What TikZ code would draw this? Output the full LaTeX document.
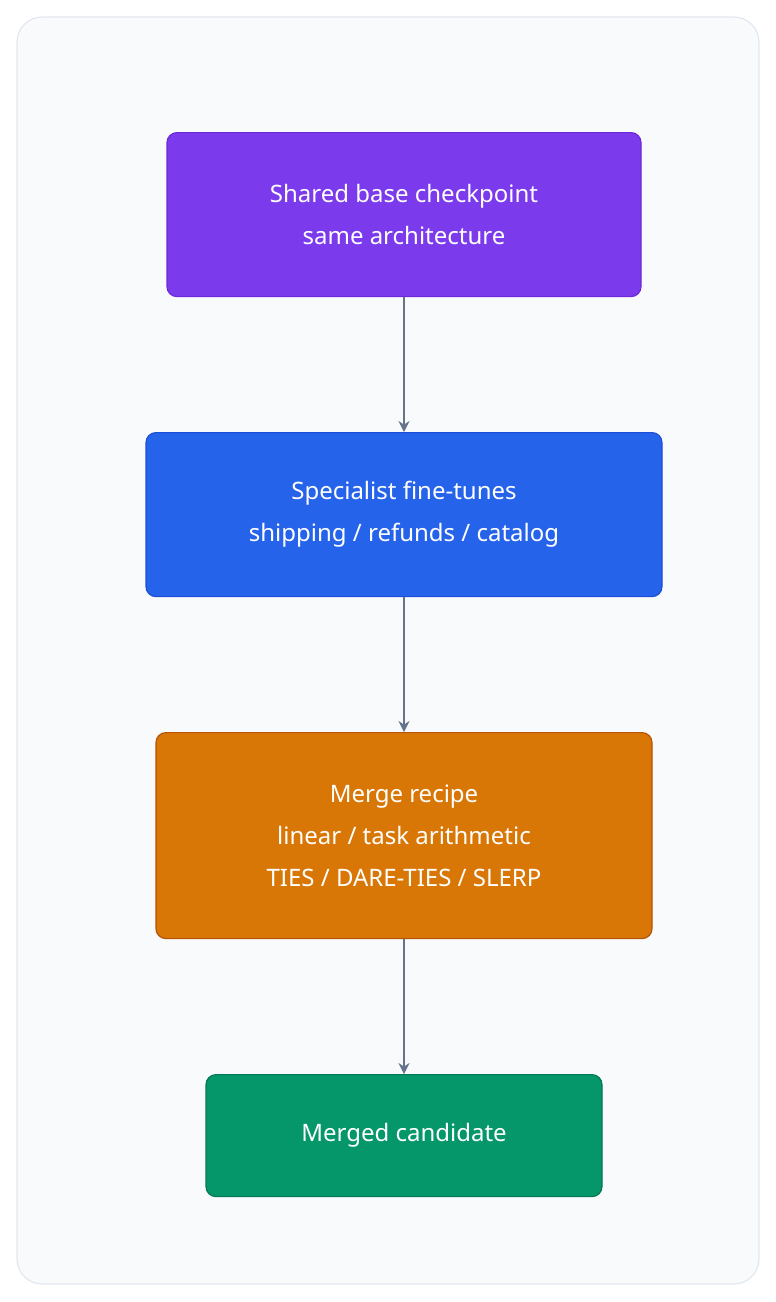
\documentclass[tikz,border=0pt]{standalone}
\usepackage{fontspec}
\setmainfont{Noto Sans}
\usetikzlibrary{arrows.meta}
\definecolor{panelfill}{HTML}{F8FAFC}
\definecolor{paneldraw}{HTML}{E2E8F0}
\definecolor{purplefill}{HTML}{7C3AED}
\definecolor{purpledraw}{HTML}{6D28D9}
\definecolor{bluefill}{HTML}{2563EB}
\definecolor{bluedraw}{HTML}{1D4ED8}
\definecolor{orangefill}{HTML}{D97706}
\definecolor{orangedraw}{HTML}{B45309}
\definecolor{greenfill}{HTML}{059669}
\definecolor{greendraw}{HTML}{047857}
\definecolor{arrowgray}{HTML}{64748B}
\begin{document}
\begin{tikzpicture}[
		x=1pt, y=-1pt,
		stage/.style={rectangle, rounded corners=10pt, line width=1.2pt, text=white,
			align=center, font=\fontsize{24}{42}\selectfont, anchor=north},
		flow/.style={draw=arrowgray, line width=1.3pt, -{Stealth[length=11pt,width=11pt]}}
	]
  \useasboundingbox (0,0) rectangle (776,1302);
  \draw [fill=panelfill, draw=paneldraw, line width=1.2pt, rounded corners=25pt] (17,17) rectangle (759,1284);
  \node (base) [stage, fill=purplefill, draw=purpledraw, minimum width=474pt, minimum height=164pt] at (404,132) {Shared base checkpoint\\same architecture};
  \node (spec) [stage, fill=bluefill, draw=bluedraw, minimum width=516pt, minimum height=164pt] at (404,432) {Specialist fine-tunes\\shipping / refunds / catalog};
  \node (recipe) [stage, fill=orangefill, draw=orangedraw, minimum width=496pt, minimum height=206pt] at (404,732) {Merge recipe\\linear / task arithmetic\\TIES / DARE-TIES / SLERP};
  \node (cand) [stage, fill=greenfill, draw=greendraw, minimum width=396pt, minimum height=122pt] at (404,1074) {Merged candidate};
  \draw [flow] (base) -- (spec);
  \draw [flow] (spec) -- (recipe);
  \draw [flow] (recipe) -- (cand);
\end{tikzpicture}
\end{document}
